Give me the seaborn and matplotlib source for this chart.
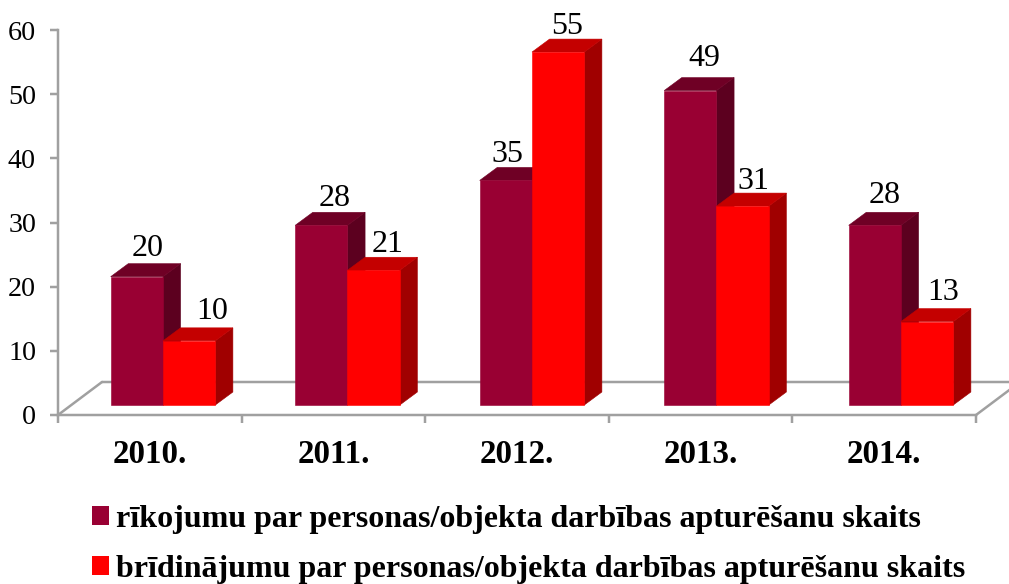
import matplotlib
matplotlib.use("Agg")
import matplotlib.pyplot as plt
from matplotlib.patches import Polygon
from matplotlib.lines import Line2D
from matplotlib.transforms import Affine2D
import seaborn as sns
import pandas as pd

years = ["2010.", "2011.", "2012.", "2013.", "2014."]
orders = [20, 28, 35, 49, 28]
warnings = [10, 21, 55, 31, 13]
series_names = ["rīkojumu par personas/objekta darbības apturēšanu skaits",
                "brīdinājumu par personas/objekta darbības apturēšanu skaits"]
yticks = [0, 10, 20, 30, 40, 50, 60]

# label nudges in pixels (hand placed in the original)
label_dx = [[2, 4, -7, 5, 1], [14, 5, 0, 2, 7]]
label_dy = [[28, 27, 25.5, 32, 30], [29, 26, 25.5, 24.5, 29]]

front = ["#990033", "#ff0000"]
side = ["#5c001f", "#a00000"]
top = ["#6f0025", "#c40000"]
GREY = "#a0a0a0"
SERIF = "Liberation Serif"
PX = 72 / 100

sns.set_theme(style="white")
plt.rcParams["font.family"] = [SERIF, "DejaVu Sans"]

W, H = 1009, 584
fig = plt.figure(figsize=(W / 100, H / 100), dpi=100)
ax = fig.add_axes([58 / W, 1 - 415 / H, (976 - 58) / W, (415 - 30) / H])

df = pd.DataFrame({
    "year": years * 2,
    "value": orders + warnings,
    "series": [series_names[0]] * 5 + [series_names[1]] * 5,
})
sns.barplot(data=df, x="year", y="value", hue="series", palette=front,
            width=0.567, gap=0, saturation=1, ax=ax, linewidth=0)

ax.set_xlim(-0.5, 4.5)
ax.set_ylim(0, 60)
ax.set_xlabel("")
ax.set_ylabel("")
ax.set_yticks(yticks)

LW = 2.5 * PX
for s in ("top", "right"):
    ax.spines[s].set_visible(False)
for s in ("left", "bottom"):
    ax.spines[s].set_color(GREY)
    ax.spines[s].set_linewidth(LW)

ax.tick_params(axis="y", length=8 * PX, width=LW, color=GREY, left=True,
               pad=14 * PX, labelsize=28 * PX, labelcolor="black")
ax.set_xticks([i - 0.5 for i in range(6)], minor=True)
ax.tick_params(axis="x", which="minor", length=8 * PX, width=LW, color=GREY, bottom=True)
ax.tick_params(axis="x", which="major", length=0, pad=24 * PX, labelsize=33 * PX, labelcolor="black")
for t in ax.get_xticklabels():
    t.set_fontweight("bold")

# 3-D look: shift of the bars off the wall and depth of each bar, in pixels
shift = Affine2D().translate(-110, 0).scale(184.5 / 183.6, 1).translate(110 + 13, 10)
bar_tf = ax.transData + shift
DX, DY = 17.5, 13
ddx = DX * (5 / (976 - 58))
ddy = DY * (60 / (415 - 30))

for h, cont in enumerate(ax.containers):
    for i, p in enumerate(cont.patches):
        p.set_transform(bar_tf)
        p.set_zorder(3 + 2 * h)
        p.set_clip_on(False)
        p.set_edgecolor(front[h])
        p.set_linewidth(0.4)
        x0, x1 = p.get_x(), p.get_x() + p.get_width()
        y1 = p.get_height()
        ax.add_patch(Polygon([(x1, 0), (x1 + ddx, ddy), (x1 + ddx, y1 + ddy), (x1, y1)],
                             closed=True, facecolor=side[h], edgecolor=side[h], linewidth=0.4,
                             transform=bar_tf, zorder=2.5 + 2 * h, clip_on=False))
        ax.add_patch(Polygon([(x0, y1), (x0 + ddx, y1 + ddy), (x1 + ddx, y1 + ddy), (x1, y1)],
                             closed=True, facecolor=top[h], edgecolor=top[h], linewidth=0.4,
                             transform=bar_tf, zorder=2.5 + 2 * h, clip_on=False))
        ax.annotate(str(int(y1)), xy=((x0 + x1) / 2, y1), xycoords=bar_tf,
                    xytext=((label_dx[h][i] + 9) * PX, label_dy[h][i] * PX),
                    textcoords="offset points", ha="center", va="center",
                    fontsize=32 * PX, color="black", zorder=10)

# floor of the 3-D frame
FX, FY = 44, 33
x_ax = lambda px: (px - 58) / (976 - 58)
y_ax = lambda py: (415 - py) / (415 - 30)
floor = [
    [(x_ax(58), y_ax(415)), (x_ax(58 + FX), y_ax(415 - FY))],
    [(x_ax(58 + FX), y_ax(415 - FY)), (x_ax(1012), y_ax(415 - FY))],
    [(x_ax(976), y_ax(415)), (x_ax(976 + FX), y_ax(415 - FY))],
]
for seg in floor:
    ax.add_line(Line2D([seg[0][0], seg[1][0]], [seg[0][1], seg[1][1]], transform=ax.transAxes,
                       color=GREY, lw=LW, clip_on=False, zorder=1))

handles, labels = ax.get_legend_handles_labels()
ax.legend(handles, labels, loc="upper left", bbox_to_anchor=(92 / W, 1 - 505 / H),
          bbox_transform=fig.transFigure, frameon=False, borderpad=0, borderaxespad=0,
          handlelength=0.53, handleheight=0.53, handletextpad=0.22, labelspacing=0.66,
          labelcolor="black",
          prop={"family": SERIF, "weight": "bold", "size": 32 * PX})

fig.savefig("out.png", dpi=100, facecolor="white")
